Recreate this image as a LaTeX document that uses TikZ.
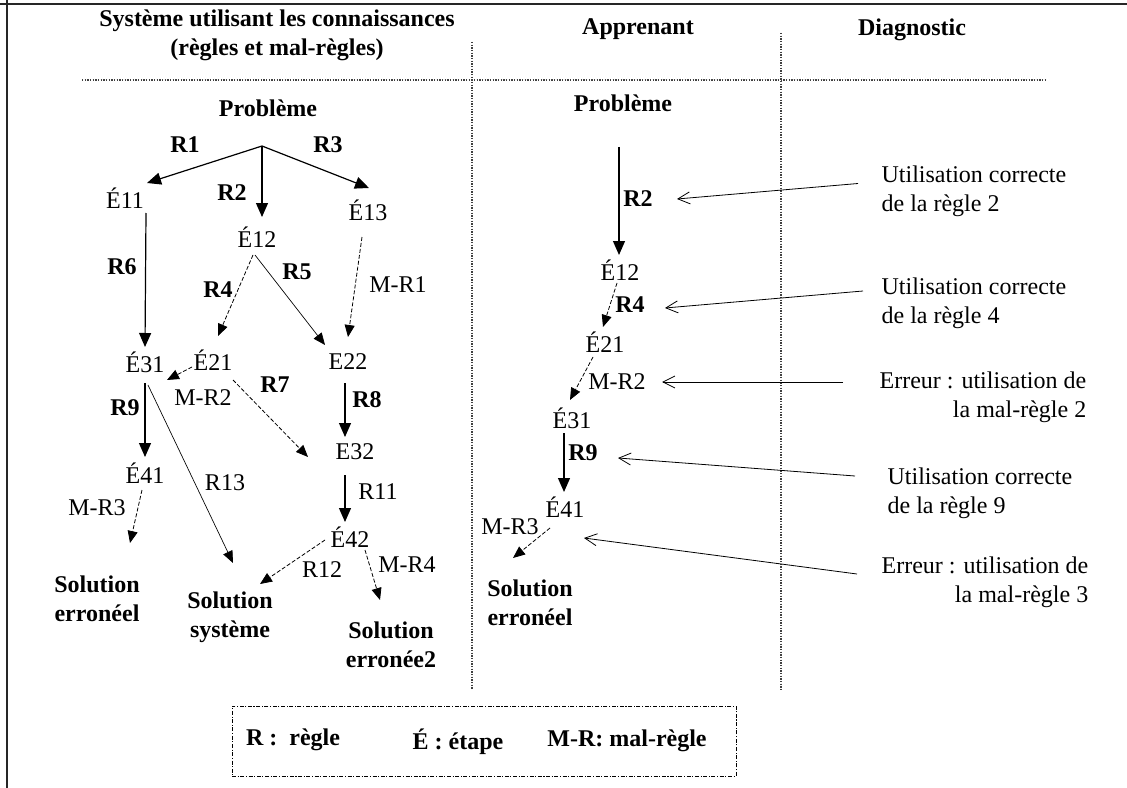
\documentclass[tikz,border=0pt]{standalone}
\usepackage{fontspec}
\setmainfont{Liberation Serif}
\usetikzlibrary{arrows.meta,calc}
\begin{document}
\begin{tikzpicture}[x=0.75pt,y=-0.75pt,
  every node/.style={inner sep=1pt,font=\fontsize{18}{21.5}\selectfont},
  bl/.style={font=\fontsize{18}{21.5}\selectfont\bfseries},
  rg/.style={font=\fontsize{18}{21.5}\selectfont},
  frame/.style={line width=1.6pt,black!85},
  sepline/.style={line width=0.8pt,black!75,dash pattern=on 1pt off 1pt},
  solidarr/.style={line width=0.9pt,-{Triangle[length=10.5pt,width=9pt]}},
  thinarr/.style={line width=0.5pt,-{Triangle[length=9pt,width=7.5pt]}},
  dasharr/.style={line width=0.6pt,dash pattern=on 3pt off 1.5pt,-{Triangle[length=9pt,width=7.5pt]}},
  openarr/.style={line width=0.6pt,-{Straight Barb[length=9pt,width=9pt]}},
  legbox/.style={draw,line width=0.6pt,dash pattern=on 3pt off 1.2pt on 0.8pt off 1.2pt,minimum width=378pt,minimum height=52.5pt,inner sep=0pt}
]
\useasboundingbox (0,0) rectangle (1127,788);
% frame
\draw[frame] (0,4) -- (1127,4);
\draw[frame] (7,0) -- (7,788);
% separators
\draw[sepline] (82,80) -- (1047,80);
\draw[sepline] (472,42) -- (472,690);
\draw[sepline] (781,33) -- (781,690);

% headers
\node[bl,align=center] (title) at (277,35) {Système utilisant les connaissances\\(règles et mal-règles)};
\node[bl] (appr) at (638,29) {Apprenant};
\node[bl] (diag) at (912,30) {Diagnostic};

% ---------- left tree ----------
\node[bl] (prob1) at (268,108) {Problème};
\coordinate (br) at ($(prob1)+(-6,38)$);
\node (e11) at (125,198) {É11};
\node (e12) at (257,237) {É12};
\node (e13) at (368,210) {É13};
\node (e31) at (145,362) {É31};
\node (e21) at (213,360) {É21};
\node (e22) at (348,362) {E22};
\node (e32) at (355,452) {E32};
\node (e41) at (145,473) {É41};
\node (e42) at (350,537) {É42};
\node[bl,align=center] (sol1) at (97,599) {Solution\\erronéel};
\node[bl,align=center] (solsys) at (230,617) {Solution\\système};
\node[bl,align=center] (sol2) at (391,645) {Solution\\erronée2};

\node[bl] (lr1) at (185,145) {R1};
\node[bl] (lr3) at (328,145) {R3};
\node[bl] (lr2) at (232,193) {R2};
\node[bl] (lr6) at (122,267) {R6};
\node[bl] (lr4) at (218,290) {R4};
\node[bl] (lr5) at (297,272) {R5};
\node (lmr1) at (398,285) {M-R1};
\node (lmr2) at (203,398) {M-R2};
\node[bl] (lr7) at (275,385) {R7};
\node[bl] (lr8) at (367,400) {R8};
\node[bl] (lr9) at (125,408) {R9};
\node (lr11) at (378,492) {R11};
\node (lr13) at (225,483) {R13};
\node (lmr3) at (97,508) {M-R3};
\node (lr12) at (322,570) {R12};
\node (lmr4) at (407,565) {M-R4};

\draw[solidarr] (br) -- ($(e11)+(22,-15)$);
\draw[solidarr] (br) -- ($(e12)+(5,-20)$);
\draw[solidarr] (br) -- ($(e13)+(1,-22)$);
\draw[solidarr] ($(e11)+(21,15)$) -- ($(e31)+(0,-15)$);
\draw[dasharr] ($(e12)+(-4,18)$) -- ($(e21)+(5,-24)$);
\draw[thinarr] ($(e12)+(-2,18)$) -- ($(e22)+(-23,-17)$);
\draw[dasharr] ($(e13)+(-6,27)$) -- ($(e22)+(0,-25)$);
\draw[dasharr] ($(e21)+(-21,7)$) -- ($(e31)+(22,18)$);
\draw[dasharr] ($(e21)+(20,20)$) -- ($(e32)+(-47,5)$);
\draw[solidarr] ($(e22)+(-3,21)$) -- ($(e32)+(-10,-15)$);
\draw[solidarr] ($(e32)+(-10,23)$) -- ($(e42)+(-5,-15)$);
\draw[solidarr] ($(e31)+(0,21)$) -- ($(e41)+(0,-16)$);
\draw[thinarr] ($(e31)+(3,23)$) -- ($(solsys)+(3,-54)$);
\draw[dasharr] ($(e41)+(-3,17)$) -- ($(sol1)+(33,-56)$);
\draw[dasharr] ($(e42)+(-25,3)$) -- ($(solsys)+(30,-33)$);
\draw[dasharr] ($(e42)+(15,13)$) -- ($(sol2)+(-11,-45)$);

% ---------- middle (learner) ----------
\node[bl] (prob2) at (623,103) {Problème};
\node (m12) at (620,270) {É12};
\node (m21) at (605,342) {É21};
\node (m31) at (572,418) {É31};
\node (m41) at (565,507) {É41};
\node[bl,align=center] (msol) at (530,603) {Solution\\erronéel};
\node[bl] (mr2) at (638,199) {R2};
\node[bl] (mr4) at (630,305) {R4};
\node (mmr2) at (617,382) {M-R2};
\node[bl] (mr9) at (583,453) {R9};
\node (mmr3) at (510,527) {M-R3};

\draw[solidarr] ($(prob2)+(-4,44)$) -- ($(m12)+(-1,-15)$);
\draw[dasharr] ($(m12)+(-3,13)$) -- ($(m21)+(-2,-15)$);
\draw[dasharr] ($(m21)+(-12,15)$) -- ($(m31)+(-2,-18)$);
\draw[solidarr] ($(m31)+(-8,15)$) -- ($(m41)+(-1,-15)$);
\draw[dasharr] ($(m41)+(-15,21)$) -- ($(msol)+(-17,-45)$);

% ---------- right (diagnosis) ----------
\node[rg,anchor=west,align=left] (d1) at (880,191.5) {Utilisation correcte\\de la règle 2};
\node[rg,anchor=west,align=left] (d2) at (880,303) {Utilisation correcte\\de la règle 4};
\node[rg,anchor=west,align=right] (d3) at (878,397) {Erreur : utilisation de\\la mal-règle 2};
\node[rg,anchor=west,align=left] (d4) at (886,493) {Utilisation correcte\\de la règle 9};
\node[rg,anchor=west,align=right] (d5) at (880,582) {Erreur : utilisation de\\la mal-règle 3};

\draw[openarr] ($(d1.west)+(-22,-8)$) -- ($(mr2)+(39,0)$);
\draw[openarr] ($(d2.west)+(-17,-12)$) -- ($(mr4)+(35,3)$);
\draw[openarr] ($(d3.west)+(-35,-15)$) -- ($(mmr2)+(45,0)$);
\draw[openarr] ($(d4.west)+(-31,-17)$) -- ($(mr9)+(35,5)$);
\draw[openarr] ($(d5.west)+(-23,-8)$) -- ($(mmr3)+(74,11)$);

% ---------- legend ----------
\node[legbox] (leg) at (484,741) {};
\node[bl] (lg1) at (293,740) {R :\ \ règle};
\node[bl] (lg2) at (458,742) {É : étape};
\node[bl] (lg3) at (627,741) {M-R: mal-règle};
\end{tikzpicture}
\end{document}
